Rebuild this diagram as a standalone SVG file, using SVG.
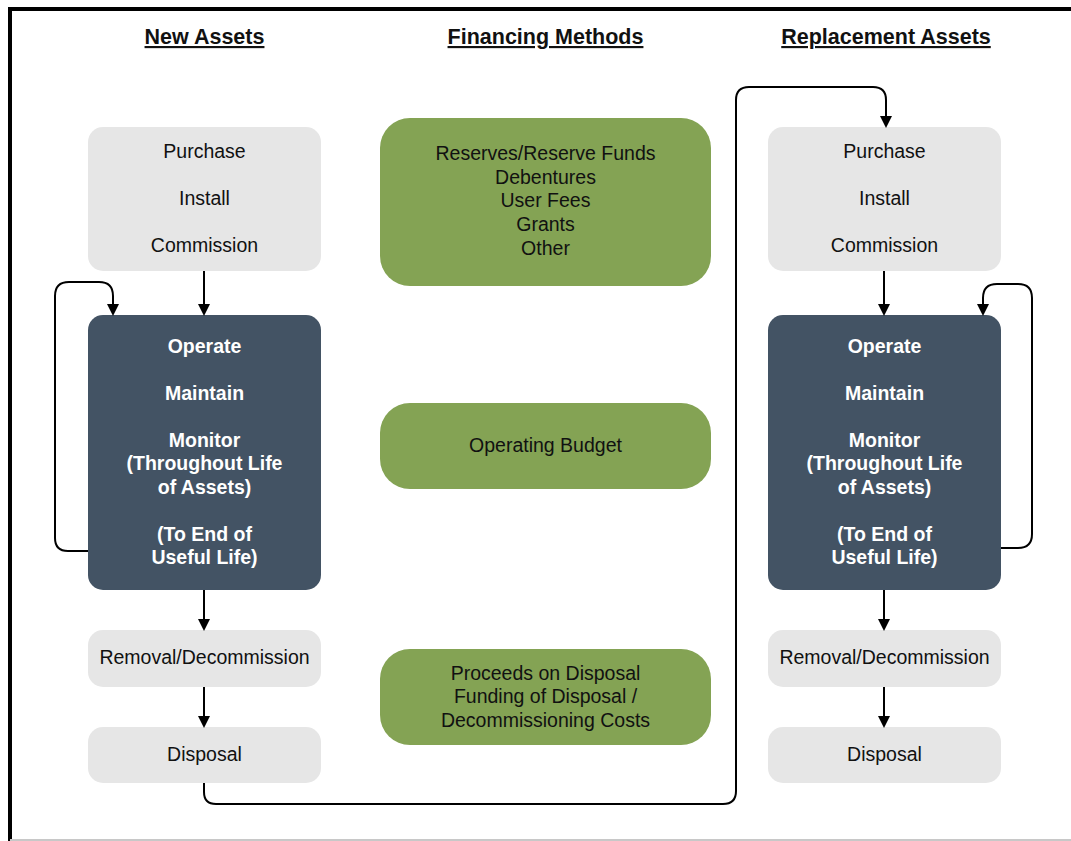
<svg xmlns="http://www.w3.org/2000/svg" width="1071" height="841" viewBox="0 0 1071 841">
<style>
.lt{fill:#e6e6e6}
.dk{fill:#435364}
.gr{fill:#84a354}
text{font-family:"Liberation Sans",Arial,sans-serif;font-size:19.5px;text-anchor:middle;fill:#111}
.hd{font-weight:bold;font-size:21.5px;text-decoration:underline}
.wb{font-weight:bold;fill:#fff}
.cn{fill:none;stroke:#000;stroke-width:2}
</style>
<defs>
<marker id="ah" markerWidth="12" markerHeight="12" refX="10" refY="6" orient="auto" markerUnits="userSpaceOnUse">
<path d="M0,0 L12,6 L0,12 z" fill="#000"/>
</marker>
</defs>
<rect width="1071" height="841" fill="#fff"/>
<path d="M10,841 V9 H1071" fill="none" stroke="#000" stroke-width="4"/>
<line x1="10" y1="840" x2="1071" y2="840" stroke="#c8c8c8" stroke-width="2"/>

<g id="headings">
<text class="hd" x="204.5" y="44">New Assets</text>
<text class="hd" x="545.5" y="44">Financing Methods</text>
<text class="hd" x="886" y="44">Replacement Assets</text>
</g>

<g id="new-purchase">
<rect class="lt" x="88" y="127" width="233" height="144" rx="15"/>
<text x="204.5" y="158">Purchase</text>
<text x="204.5" y="205">Install</text>
<text x="204.5" y="252">Commission</text>
</g>
<g id="new-operate">
<rect class="dk" x="88" y="315" width="233" height="275" rx="15"/>
<text class="wb" x="204.5" y="353">Operate</text>
<text class="wb" x="204.5" y="400">Maintain</text>
<text class="wb" x="204.5" y="447">Monitor</text>
<text class="wb" x="204.5" y="470">(Throughout Life</text>
<text class="wb" x="204.5" y="494">of Assets)</text>
<text class="wb" x="204.5" y="541">(To End of</text>
<text class="wb" x="204.5" y="564">Useful Life)</text>
</g>
<g id="new-removal">
<rect class="lt" x="88" y="630" width="233" height="57" rx="15"/>
<text x="204.5" y="664">Removal/Decommission</text>
</g>
<g id="new-disposal">
<rect class="lt" x="88" y="727" width="233" height="56" rx="15"/>
<text x="204.5" y="761">Disposal</text>
</g>

<g id="fin-capital">
<rect class="gr" x="380" y="118" width="331" height="168" rx="30"/>
<text x="545.5" y="160">Reserves/Reserve Funds</text>
<text x="545.5" y="184">Debentures</text>
<text x="545.5" y="207">User Fees</text>
<text x="545.5" y="231">Grants</text>
<text x="545.5" y="255">Other</text>
</g>
<g id="fin-operating">
<rect class="gr" x="380" y="403" width="331" height="86" rx="30"/>
<text x="545.5" y="452">Operating Budget</text>
</g>
<g id="fin-disposal">
<rect class="gr" x="380" y="649" width="331" height="96" rx="30"/>
<text x="545.5" y="680">Proceeds on Disposal</text>
<text x="545.5" y="703">Funding of Disposal /</text>
<text x="545.5" y="727">Decommissioning Costs</text>
</g>

<g id="rep-purchase">
<rect class="lt" x="768" y="127" width="233" height="144" rx="15"/>
<text x="884.5" y="158">Purchase</text>
<text x="884.5" y="205">Install</text>
<text x="884.5" y="252">Commission</text>
</g>
<g id="rep-operate">
<rect class="dk" x="768" y="315" width="233" height="275" rx="15"/>
<text class="wb" x="884.5" y="353">Operate</text>
<text class="wb" x="884.5" y="400">Maintain</text>
<text class="wb" x="884.5" y="447">Monitor</text>
<text class="wb" x="884.5" y="470">(Throughout Life</text>
<text class="wb" x="884.5" y="494">of Assets)</text>
<text class="wb" x="884.5" y="541">(To End of</text>
<text class="wb" x="884.5" y="564">Useful Life)</text>
</g>
<g id="rep-removal">
<rect class="lt" x="768" y="630" width="233" height="57" rx="15"/>
<text x="884.5" y="664">Removal/Decommission</text>
</g>
<g id="rep-disposal">
<rect class="lt" x="768" y="727" width="233" height="56" rx="15"/>
<text x="884.5" y="761">Disposal</text>
</g>

<g id="connectors">
<path class="cn" d="M204,271 V314" marker-end="url(#ah)"/>
<path class="cn" d="M204,590 V629" marker-end="url(#ah)"/>
<path class="cn" d="M204,687 V726" marker-end="url(#ah)"/>
<path class="cn" d="M884,271 V314" marker-end="url(#ah)"/>
<path class="cn" d="M884,590 V629" marker-end="url(#ah)"/>
<path class="cn" d="M884,687 V726" marker-end="url(#ah)"/>
<path class="cn" d="M88,551 H68 Q55,551 55,538 V296 Q55,282 69,282 H99 Q113,282 113,296 V314" marker-end="url(#ah)"/>
<path class="cn" d="M1001,548 H1018 Q1032,548 1032,534 V298 Q1032,284 1018,284 H997 Q983,284 983,298 V314" marker-end="url(#ah)"/>
<path class="cn" d="M204,783 V792 Q204,804 216,804 H723 Q736,804 736,791 V100 Q736,87 749,87 H873 Q886,87 886,100 V126" marker-end="url(#ah)"/>
</g>
</svg>
